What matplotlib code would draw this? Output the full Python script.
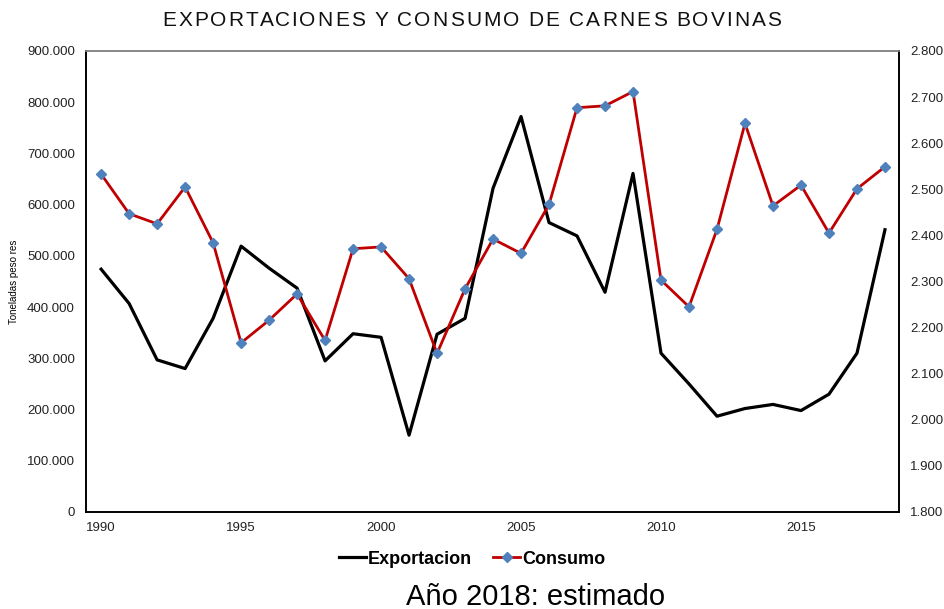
import matplotlib
matplotlib.use("Agg")
import matplotlib.pyplot as plt
from matplotlib.ticker import FuncFormatter, MultipleLocator

plt.rcParams['font.family'] = ['Liberation Sans', 'DejaVu Sans']

years = list(range(1990, 2019))
exportacion = [474000, 407000, 297000, 280000, 378000, 519000, 476000, 437000,
               295000, 348000, 341000, 150000, 347000, 378000, 632000, 772000,
               565000, 539000, 429000, 661000, 310000, 250000, 187000, 202000,
               210000, 198000, 230000, 310000, 551000]
consumo = [2533, 2447, 2425, 2505, 2384, 2167, 2216, 2273, 2172, 2371,
           2375, 2306, 2144, 2284, 2392, 2361, 2467, 2677, 2681, 2712,
           2303, 2245, 2413, 2643, 2464, 2509, 2405, 2501, 2549]
titulo = "EXPORTACIONES Y CONSUMO DE CARNES BOVINAS"


def miles(v, pos):
    # separador de miles con punto
    return "{:,.0f}".format(v).replace(",", ".")


fig = plt.figure(figsize=(9.44, 6.09), dpi=100)
ax = fig.add_axes([0.0911, 0.1593, 0.8612, 0.7570])
ax2 = ax.twinx()

l1, = ax.plot(years, exportacion, color="black", lw=2.3, label="Exportacion")
l2, = ax2.plot(years, consumo, color="#C00000", lw=2.0, marker="D", ms=5.5,
               markerfacecolor="#4F81BD", markeredgecolor="#4F81BD", label="Consumo")

ax.set_xlim(1989.46, 2018.5)
ax.set_ylim(0, 900000)
ax2.set_ylim(1800, 2800)
ax.xaxis.set_major_locator(MultipleLocator(5))
ax.yaxis.set_major_locator(MultipleLocator(100000))
ax2.yaxis.set_major_locator(MultipleLocator(100))
ax.yaxis.set_major_formatter(FuncFormatter(miles))
ax2.yaxis.set_major_formatter(FuncFormatter(miles))

for a in (ax, ax2):
    a.tick_params(length=0, labelsize=9.5, colors="#222222", pad=8)
    a.spines["top"].set_color("#888888")
    a.spines["left"].set_color("black")
    a.spines["right"].set_color("black")
    a.spines["bottom"].set_color("black")
    for s in a.spines.values():
        s.set_linewidth(1.2)
ax.tick_params(axis="x", pad=7)

ax.set_ylabel("Toneladas peso res", fontsize=7, labelpad=6)

# titulo con espaciado entre letras (se coloca letra por letra)
renderer = fig.canvas.get_renderer()
tsize = 15
espacio = 2.0  # px


def ancho(s):
    t = fig.text(0, 0, s, fontsize=tsize)
    w = t.get_window_extent(renderer).width
    t.remove()
    return w


wI = ancho("I")
pos = [ancho(titulo[:i] + "I") - wI if i > 0 else 0 for i in range(len(titulo))]
total = ancho(titulo) + espacio * (len(titulo) - 1)
x0 = fig.bbox.width / 2 - total / 2
for i, ch in enumerate(titulo):
    if ch == " ":
        continue
    fig.text((x0 + pos[i] + espacio * i) / fig.bbox.width, 0.966, ch,
             ha="left", va="center", fontsize=tsize, color="#111111")

fig.legend(handles=[l1, l2], loc="center", bbox_to_anchor=(0.5, 0.082), ncol=2,
           frameon=False, prop={"weight": "bold", "size": 13},
           handlelength=1.5, handletextpad=0.1, columnspacing=1.2)

fig.text(0.567, 0.02, "Año 2018: estimado", ha="center", va="center", fontsize=21)

fig.savefig("out.png", dpi=100)
